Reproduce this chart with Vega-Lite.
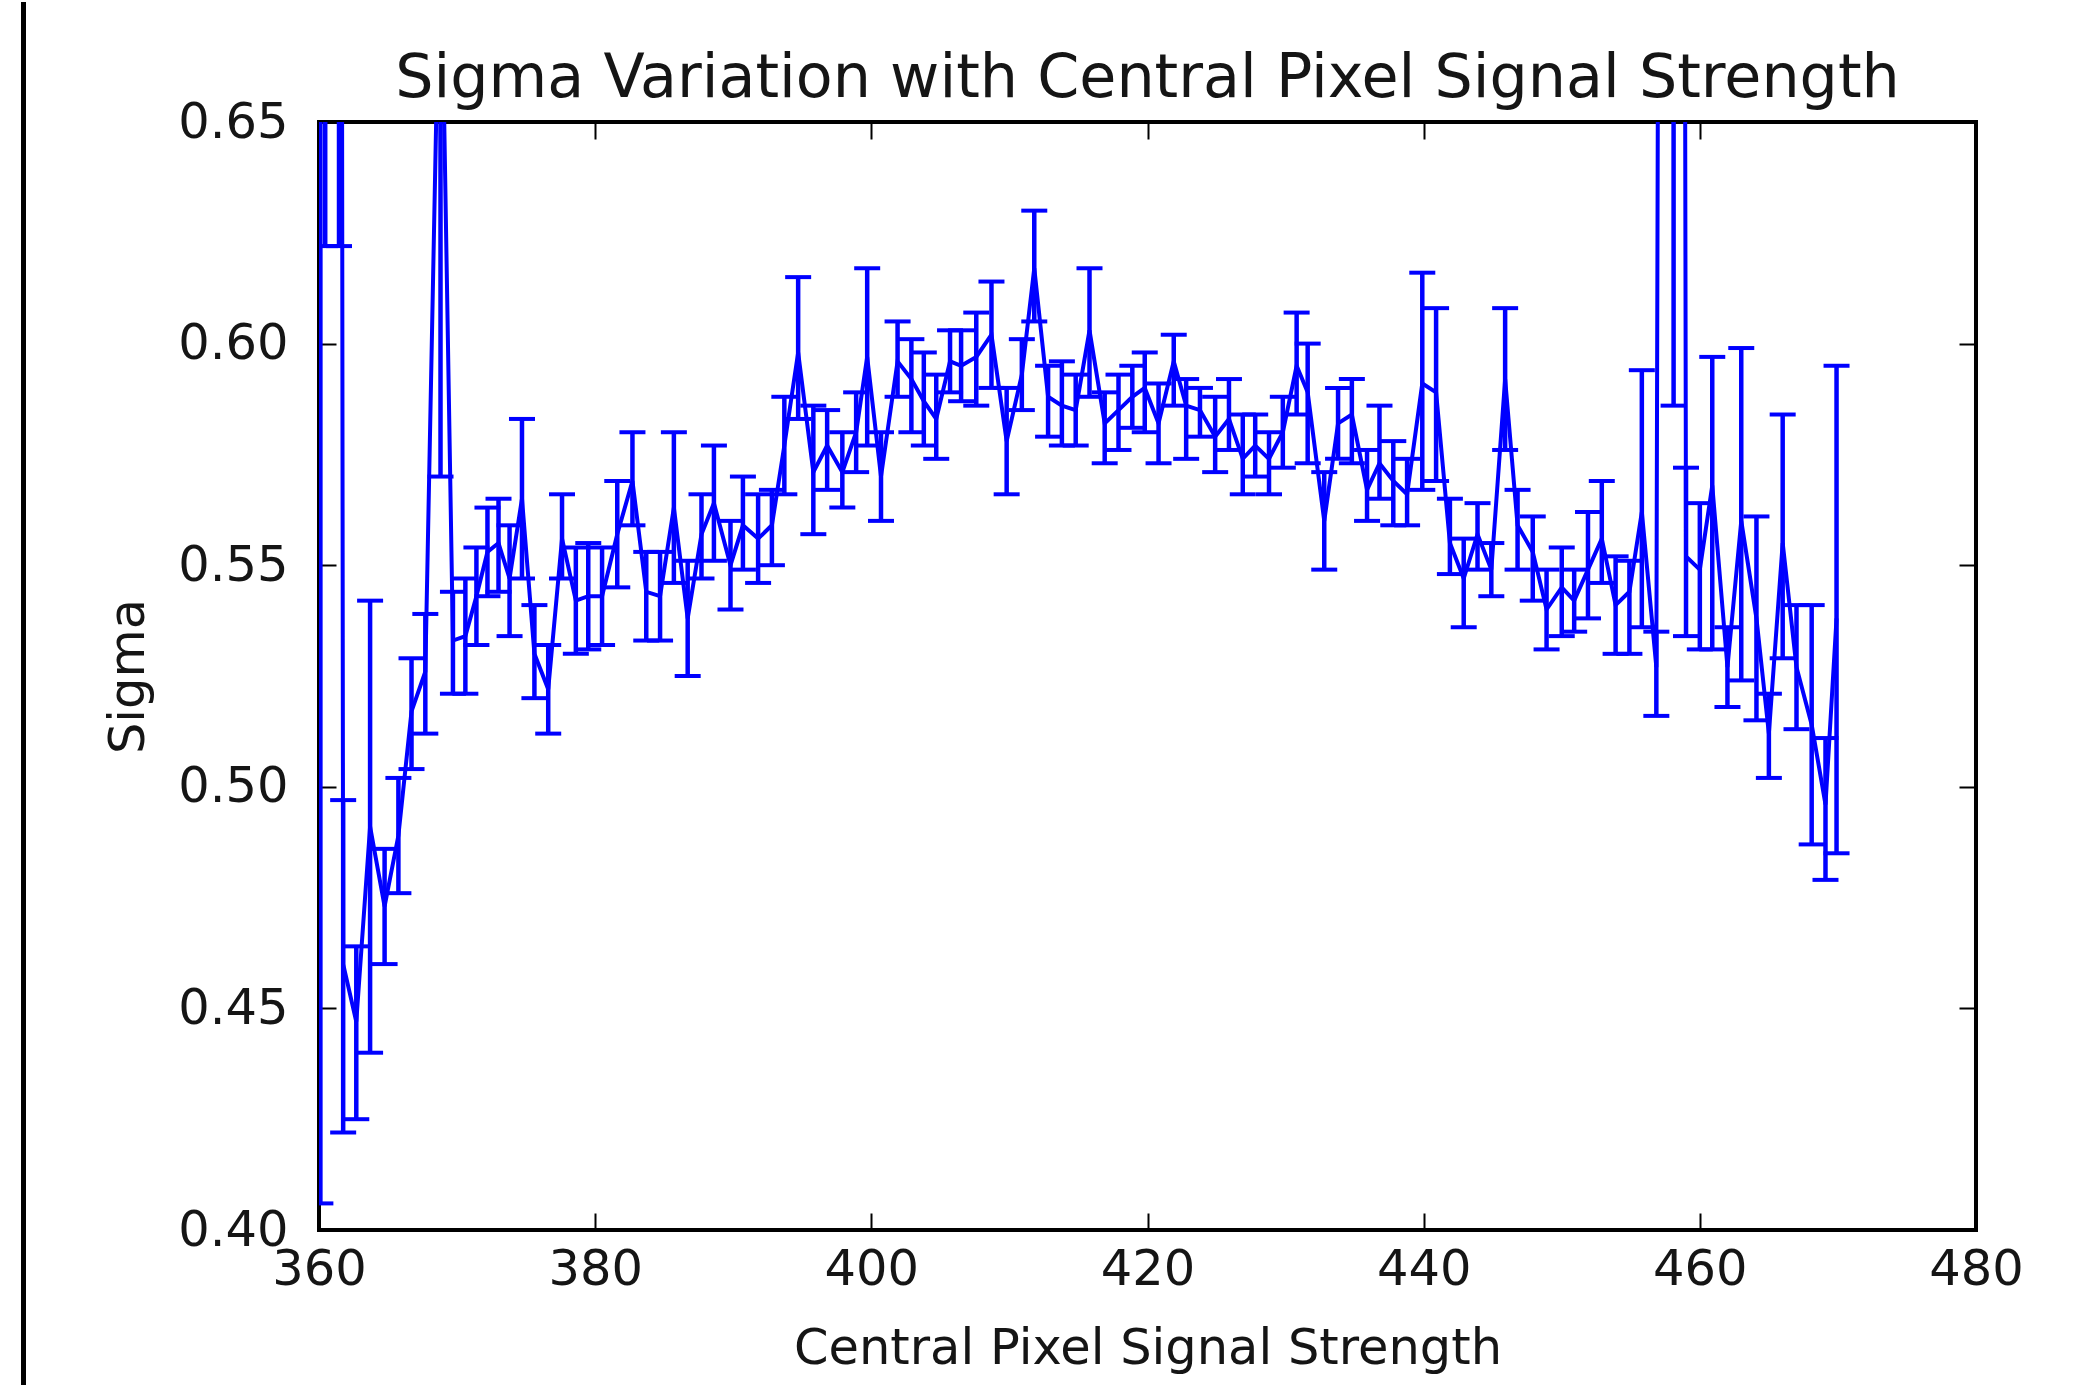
{
  "$schema": "https://vega.github.io/schema/vega-lite/v6.json",
  "width": 1657,
  "height": 1108,
  "autosize": {"type": "none"},
  "padding": {"left": 319, "top": 122, "right": 106, "bottom": 155},
  "background": "white",
  "config": {
    "font": "DejaVu Sans",
    "view": {"stroke": "#000000", "strokeWidth": 4},
    "axis": {
      "grid": false,
      "domain": false,
      "labelFont": "DejaVu Sans",
      "labelFontSize": 49.5,
      "labelColor": "#151515",
      "labelFlush": false,
      "labelOverlap": false,
      "titleFont": "DejaVu Sans",
      "titleFontSize": 49.5,
      "titleFontWeight": "normal",
      "titleColor": "#151515",
      "tickColor": "#000000",
      "tickWidth": 2,
      "tickSize": -17
    }
  },
  "title": {
    "text": "Sigma Variation with Central Pixel Signal Strength",
    "font": "DejaVu Sans",
    "fontSize": 60.3,
    "fontWeight": "normal",
    "color": "#151515",
    "anchor": "middle",
    "frame": "group",
    "baseline": "bottom",
    "offset": -169.5
  },
  "datasets": {
    "sigma": [
      {"s": 360.1, "sigma": 0.9, "lo": 0.406, "hi": 1.4},
      {"s": 360.45, "sigma": 1.0, "lo": 0.622, "hi": 1.38},
      {"s": 361.45, "sigma": 1.2, "lo": 0.622, "hi": 1.78},
      {"s": 361.75, "sigma": 0.46, "lo": 0.422, "hi": 0.497},
      {"s": 362.7, "sigma": 0.447, "lo": 0.425, "hi": 0.464},
      {"s": 363.7, "sigma": 0.491, "lo": 0.44, "hi": 0.542},
      {"s": 364.75, "sigma": 0.473, "lo": 0.46, "hi": 0.486},
      {"s": 365.75, "sigma": 0.489, "lo": 0.476, "hi": 0.502},
      {"s": 366.7, "sigma": 0.517, "lo": 0.504, "hi": 0.529},
      {"s": 367.7, "sigma": 0.526, "lo": 0.512, "hi": 0.539},
      {"s": 368.8, "sigma": 0.7, "lo": 0.57, "hi": 0.83},
      {"s": 369.7, "sigma": 0.533, "lo": 0.521, "hi": 0.544},
      {"s": 370.6, "sigma": 0.534, "lo": 0.521, "hi": 0.547},
      {"s": 371.4, "sigma": 0.543, "lo": 0.532, "hi": 0.554},
      {"s": 372.2, "sigma": 0.553, "lo": 0.543, "hi": 0.563},
      {"s": 373.0, "sigma": 0.555, "lo": 0.544, "hi": 0.565},
      {"s": 373.8, "sigma": 0.547, "lo": 0.534, "hi": 0.559},
      {"s": 374.7, "sigma": 0.565, "lo": 0.547, "hi": 0.583},
      {"s": 375.6, "sigma": 0.53, "lo": 0.52, "hi": 0.541},
      {"s": 376.6, "sigma": 0.522, "lo": 0.512, "hi": 0.532},
      {"s": 377.6, "sigma": 0.556, "lo": 0.547, "hi": 0.566},
      {"s": 378.6, "sigma": 0.542, "lo": 0.53, "hi": 0.554},
      {"s": 379.5, "sigma": 0.543, "lo": 0.531, "hi": 0.555},
      {"s": 380.5, "sigma": 0.543, "lo": 0.532, "hi": 0.554},
      {"s": 381.6, "sigma": 0.557, "lo": 0.545, "hi": 0.569},
      {"s": 382.7, "sigma": 0.569, "lo": 0.559, "hi": 0.58},
      {"s": 383.7, "sigma": 0.544, "lo": 0.533, "hi": 0.553},
      {"s": 384.7, "sigma": 0.543, "lo": 0.533, "hi": 0.553},
      {"s": 385.7, "sigma": 0.563, "lo": 0.546, "hi": 0.58},
      {"s": 386.7, "sigma": 0.538, "lo": 0.525, "hi": 0.551},
      {"s": 387.7, "sigma": 0.557, "lo": 0.547, "hi": 0.566},
      {"s": 388.6, "sigma": 0.564, "lo": 0.551, "hi": 0.577},
      {"s": 389.8, "sigma": 0.55, "lo": 0.54, "hi": 0.56},
      {"s": 390.7, "sigma": 0.559, "lo": 0.549, "hi": 0.57},
      {"s": 391.8, "sigma": 0.556, "lo": 0.546, "hi": 0.566},
      {"s": 392.8, "sigma": 0.559, "lo": 0.55, "hi": 0.567},
      {"s": 393.7, "sigma": 0.577, "lo": 0.566, "hi": 0.588},
      {"s": 394.7, "sigma": 0.598, "lo": 0.583, "hi": 0.615},
      {"s": 395.8, "sigma": 0.571, "lo": 0.557, "hi": 0.586},
      {"s": 396.8, "sigma": 0.577, "lo": 0.567, "hi": 0.585},
      {"s": 397.9, "sigma": 0.571, "lo": 0.563, "hi": 0.58},
      {"s": 398.9, "sigma": 0.58, "lo": 0.571, "hi": 0.589},
      {"s": 399.7, "sigma": 0.597, "lo": 0.577, "hi": 0.617},
      {"s": 400.7, "sigma": 0.57, "lo": 0.56, "hi": 0.58},
      {"s": 401.9, "sigma": 0.596, "lo": 0.588, "hi": 0.605},
      {"s": 402.9, "sigma": 0.592, "lo": 0.58, "hi": 0.601},
      {"s": 403.8, "sigma": 0.587, "lo": 0.577, "hi": 0.598},
      {"s": 404.7, "sigma": 0.583, "lo": 0.574, "hi": 0.593},
      {"s": 405.7, "sigma": 0.596, "lo": 0.589, "hi": 0.603},
      {"s": 406.5, "sigma": 0.595, "lo": 0.587, "hi": 0.603},
      {"s": 407.6, "sigma": 0.597, "lo": 0.586, "hi": 0.607},
      {"s": 408.7, "sigma": 0.602, "lo": 0.59, "hi": 0.614},
      {"s": 409.8, "sigma": 0.578, "lo": 0.566, "hi": 0.59},
      {"s": 410.9, "sigma": 0.593, "lo": 0.585, "hi": 0.601},
      {"s": 411.8, "sigma": 0.617, "lo": 0.605, "hi": 0.63},
      {"s": 412.8, "sigma": 0.588, "lo": 0.579, "hi": 0.595},
      {"s": 413.8, "sigma": 0.586, "lo": 0.577, "hi": 0.596},
      {"s": 414.8, "sigma": 0.585, "lo": 0.577, "hi": 0.593},
      {"s": 415.8, "sigma": 0.603, "lo": 0.588, "hi": 0.617},
      {"s": 416.9, "sigma": 0.582, "lo": 0.573, "hi": 0.589},
      {"s": 417.9, "sigma": 0.585, "lo": 0.576, "hi": 0.593},
      {"s": 418.9, "sigma": 0.588, "lo": 0.581, "hi": 0.595},
      {"s": 419.8, "sigma": 0.59, "lo": 0.58, "hi": 0.598},
      {"s": 420.8, "sigma": 0.582, "lo": 0.573, "hi": 0.591},
      {"s": 421.9, "sigma": 0.596, "lo": 0.586, "hi": 0.602},
      {"s": 422.8, "sigma": 0.586, "lo": 0.574, "hi": 0.592},
      {"s": 423.8, "sigma": 0.585, "lo": 0.579, "hi": 0.59},
      {"s": 424.9, "sigma": 0.579, "lo": 0.571, "hi": 0.588},
      {"s": 425.9, "sigma": 0.583, "lo": 0.576, "hi": 0.592},
      {"s": 426.9, "sigma": 0.574, "lo": 0.566, "hi": 0.584},
      {"s": 427.8, "sigma": 0.577, "lo": 0.57, "hi": 0.584},
      {"s": 428.8, "sigma": 0.574, "lo": 0.566, "hi": 0.58},
      {"s": 429.8, "sigma": 0.58, "lo": 0.572, "hi": 0.588},
      {"s": 430.8, "sigma": 0.595, "lo": 0.584, "hi": 0.607},
      {"s": 431.6, "sigma": 0.589, "lo": 0.573, "hi": 0.6},
      {"s": 432.8, "sigma": 0.56, "lo": 0.549, "hi": 0.571},
      {"s": 433.8, "sigma": 0.582, "lo": 0.574, "hi": 0.59},
      {"s": 434.8, "sigma": 0.584, "lo": 0.573, "hi": 0.592},
      {"s": 435.9, "sigma": 0.567, "lo": 0.56, "hi": 0.576},
      {"s": 436.8, "sigma": 0.573, "lo": 0.565, "hi": 0.586},
      {"s": 437.8, "sigma": 0.569, "lo": 0.559, "hi": 0.578},
      {"s": 438.8, "sigma": 0.566, "lo": 0.559, "hi": 0.574},
      {"s": 439.9, "sigma": 0.591, "lo": 0.567, "hi": 0.616},
      {"s": 440.9, "sigma": 0.589, "lo": 0.569, "hi": 0.608},
      {"s": 441.9, "sigma": 0.555, "lo": 0.548, "hi": 0.565},
      {"s": 442.9, "sigma": 0.547, "lo": 0.536, "hi": 0.556},
      {"s": 443.9, "sigma": 0.557, "lo": 0.549, "hi": 0.564},
      {"s": 444.9, "sigma": 0.549, "lo": 0.543, "hi": 0.555},
      {"s": 445.9, "sigma": 0.592, "lo": 0.576, "hi": 0.608},
      {"s": 446.8, "sigma": 0.559, "lo": 0.549, "hi": 0.567},
      {"s": 447.9, "sigma": 0.553, "lo": 0.542, "hi": 0.561},
      {"s": 448.9, "sigma": 0.54, "lo": 0.531, "hi": 0.549},
      {"s": 450.0, "sigma": 0.545, "lo": 0.534, "hi": 0.554},
      {"s": 450.9, "sigma": 0.542, "lo": 0.535, "hi": 0.549},
      {"s": 451.9, "sigma": 0.549, "lo": 0.538, "hi": 0.562},
      {"s": 452.9, "sigma": 0.556, "lo": 0.546, "hi": 0.569},
      {"s": 453.9, "sigma": 0.541, "lo": 0.53, "hi": 0.552},
      {"s": 454.9, "sigma": 0.544, "lo": 0.53, "hi": 0.551},
      {"s": 455.8, "sigma": 0.562, "lo": 0.536, "hi": 0.594},
      {"s": 456.85, "sigma": 0.527, "lo": 0.516, "hi": 0.535},
      {"s": 458.1, "sigma": 2.0, "lo": 0.586, "hi": 3.4},
      {"s": 459.0, "sigma": 0.552, "lo": 0.534, "hi": 0.572},
      {"s": 460.0, "sigma": 0.549, "lo": 0.531, "hi": 0.564},
      {"s": 460.9, "sigma": 0.568, "lo": 0.531, "hi": 0.597},
      {"s": 462.0, "sigma": 0.527, "lo": 0.518, "hi": 0.536},
      {"s": 463.0, "sigma": 0.56, "lo": 0.524, "hi": 0.599},
      {"s": 464.1, "sigma": 0.538, "lo": 0.515, "hi": 0.561},
      {"s": 465.0, "sigma": 0.512, "lo": 0.502, "hi": 0.521},
      {"s": 466.0, "sigma": 0.555, "lo": 0.529, "hi": 0.584},
      {"s": 467.0, "sigma": 0.527, "lo": 0.513, "hi": 0.541},
      {"s": 468.1, "sigma": 0.514, "lo": 0.487, "hi": 0.541},
      {"s": 469.1, "sigma": 0.496, "lo": 0.479, "hi": 0.511},
      {"s": 469.9, "sigma": 0.538, "lo": 0.485, "hi": 0.595}
    ]
  },
  "data": {"name": "sigma"},
  "resolve": {"axis": {"x": "independent", "y": "independent"}},
  "layer": [
    {
      "mark": {"type": "rule", "color": "#0000ff", "strokeWidth": 4.5, "clip": true},
      "encoding": {
        "x": {
          "field": "s",
          "type": "quantitative",
          "scale": {"domain": [360, 480], "nice": false, "zero": false},
          "axis": {
            "orient": "bottom",
            "values": [360, 380, 400, 420, 440, 460, 480],
            "format": "d",
            "labelPadding": 32,
            "title": "Central Pixel Signal Strength",
            "titlePadding": 31
          }
        },
        "y": {
          "field": "lo",
          "type": "quantitative",
          "scale": {"domain": [0.4, 0.65], "nice": false, "zero": false},
          "axis": {
            "orient": "left",
            "values": [0.4, 0.45, 0.5, 0.55, 0.6, 0.65],
            "format": ".2f",
            "labelPadding": 48,
            "title": "Sigma",
            "titlePadding": 24
          }
        },
        "y2": {"field": "hi"}
      }
    },
    {
      "mark": {"type": "line", "color": "#0000ff", "strokeWidth": 4, "clip": true},
      "encoding": {
        "x": {"field": "s", "type": "quantitative", "axis": null},
        "y": {"field": "sigma", "type": "quantitative", "axis": null}
      }
    },
    {
      "mark": {"type": "tick", "orient": "horizontal", "color": "#0000ff", "size": 26, "thickness": 4, "opacity": 1, "clip": true},
      "encoding": {
        "x": {"field": "s", "type": "quantitative", "axis": null},
        "y": {"field": "lo", "type": "quantitative", "axis": null}
      }
    },
    {
      "mark": {"type": "tick", "orient": "horizontal", "color": "#0000ff", "size": 26, "thickness": 4, "opacity": 1, "clip": true},
      "encoding": {
        "x": {"field": "s", "type": "quantitative", "axis": null},
        "y": {"field": "hi", "type": "quantitative", "axis": null}
      }
    },
    {
      "mark": {"type": "point", "opacity": 0, "clip": true},
      "encoding": {
        "x": {
          "field": "s",
          "type": "quantitative",
          "axis": {"orient": "top", "values": [360, 380, 400, 420, 440, 460, 480], "labels": false, "title": null}
        },
        "y": {
          "field": "sigma",
          "type": "quantitative",
          "axis": {"orient": "right", "values": [0.4, 0.45, 0.5, 0.55, 0.6, 0.65], "labels": false, "title": null}
        }
      }
    },
    {
      "mark": {"type": "rule", "color": "#000000", "strokeWidth": 4, "clip": false},
      "encoding": {
        "x": {"datum": 338.6, "type": "quantitative", "axis": null},
        "y": {"datum": 0.677, "type": "quantitative", "axis": null},
        "y2": {"datum": 0.365}
      }
    }
  ]
}
